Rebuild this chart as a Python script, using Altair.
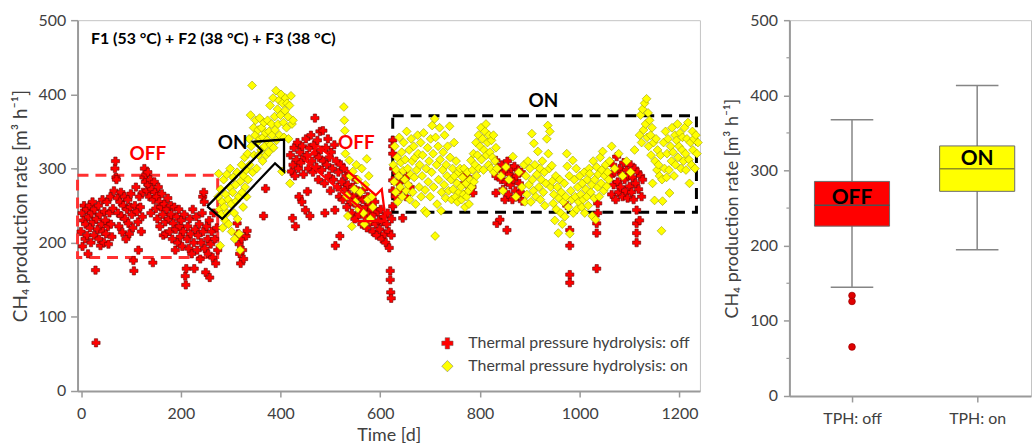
import altair as alt
import pandas as pd

FONT = "Lato"
OFF = "Thermal pressure hydrolysis: off"
ON = "Thermal pressure hydrolysis: on"

# ---------------- scatter data: (time [d], CH4 production rate [m3/h]) ----------------
off_phase1 = [
    (0, 215), (2, 240), (3, 195), (5, 230), (6, 250), (8, 205), (9, 225), (11, 245), (12, 210), (14, 185),
    (15, 235), (17, 250), (18, 220), (20, 200), (21, 240), (23, 255), (24, 228), (26, 210), (27, 245), (29, 163),
    (30, 65), (31, 232), (33, 218), (35, 250), (36, 205), (38, 238), (39, 196), (41, 225), (43, 258), (44, 215),
    (46, 200), (47, 242), (49, 230), (50, 212), (52, 255), (54, 222), (55, 198), (57, 240), (59, 262), (60, 225),
    (62, 208), (64, 246), (66, 270), (68, 300), (69, 310), (70, 288), (71, 285), (73, 260), (74, 240), (76, 222),
    (78, 255), (80, 268), (81, 236), (83, 214), (85, 250), (87, 262), (88, 232), (90, 205), (92, 245), (94, 258),
    (95, 226), (97, 212), (99, 248), (100, 266), (102, 238), (104, 220), (105, 176), (106, 162), (108, 250), (110, 275),
    (112, 242), (114, 228), (115, 190), (117, 262), (119, 248), (121, 215), (123, 235), (124, 268), (126, 288), (127, 300),
    (129, 282), (130, 292), (132, 270), (134, 295), (135, 278), (137, 262), (139, 285), (140, 240), (142, 272), (144, 173),
    (145, 258), (147, 282), (148, 268), (150, 246), (152, 262), (153, 232), (155, 275), (157, 255), (158, 222), (160, 248),
    (162, 266), (164, 238), (165, 210), (167, 252), (169, 228), (170, 212), (172, 245), (174, 260), (176, 232), (178, 215),
    (180, 250), (181, 238), (183, 205), (185, 226), (187, 248), (189, 190), (190, 218), (192, 235), (194, 200), (196, 245),
    (198, 222), (199, 208), (201, 230), (203, 195), (205, 215), (207, 238), (209, 155), (210, 143), (211, 165), (213, 205),
    (214, 222), (216, 192), (218, 232), (220, 212), (222, 185), (224, 245), (226, 200), (227, 165), (229, 218), (231, 235),
    (233, 190), (235, 210), (237, 225), (239, 178), (241, 200), (243, 240), (244, 262), (245, 215), (246, 268), (247, 255),
    (248, 192), (250, 160), (252, 222), (254, 205), (255, 185), (257, 230), (258, 153), (260, 198), (262, 215), (264, 180),
    (266, 240), (268, 205), (270, 172), (272, 220), (274, 190),
]

off_gap = [
    (313, 226), (315, 212), (317, 198), (318, 185), (320, 172), (322, 205), (324, 190), (326, 178),
    (331, 209), (333, 216), (366, 236), (370, 273),
]

on_phase1 = [
    (275, 262), (276, 293), (278, 245), (279, 196), (280, 272), (281, 238), (283, 255), (284, 220), (286, 285), (287, 248),
    (289, 230), (290, 265), (292, 292), (293, 240), (295, 258), (296, 225), (298, 275), (299, 300), (301, 252), (302, 215),
    (304, 268), (305, 288), (307, 240), (308, 205), (310, 278), (311, 256), (313, 295), (314, 232), (316, 262), (317, 212),
    (319, 190), (320, 283), (322, 305), (323, 268), (325, 248), (326, 290), (328, 315), (329, 275), (331, 298), (332, 262),
    (334, 320), (335, 285), (337, 340), (338, 305), (340, 372), (341, 330), (343, 412), (344, 295), (346, 355), (347, 318),
    (349, 345), (350, 365), (352, 300), (353, 335), (355, 352), (356, 318), (358, 368), (359, 340), (361, 325), (362, 355),
    (364, 310), (365, 342), (367, 362), (368, 330), (370, 348), (371, 318), (373, 338), (374, 365), (376, 322), (377, 350),
    (379, 385), (380, 332), (382, 360), (383, 345), (385, 395), (386, 328), (388, 370), (389, 352), (391, 405), (392, 338),
    (394, 380), (395, 360), (397, 392), (398, 345), (400, 372), (401, 400), (403, 296), (404, 388), (406, 362), (407, 342),
    (409, 378), (410, 395), (412, 355), (413, 388), (415, 370), (416, 340), (418, 385), (419, 280), (421, 398), (423, 360),
    (425, 365),
]

off_phase2 = [
    (420, 318), (422, 296), (424, 233), (425, 305), (427, 328), (429, 290), (430, 222), (432, 312), (434, 335), (436, 300),
    (437, 262), (439, 322), (441, 308), (443, 255), (444, 330), (446, 292), (448, 315), (450, 244), (451, 340), (453, 318),
    (454, 269), (456, 300), (458, 328), (459, 236), (461, 345), (463, 310), (465, 295), (467, 332), (469, 368), (470, 320),
    (472, 302), (474, 338), (476, 285), (477, 315), (479, 350), (481, 325), (483, 298), (485, 351), (486, 310), (488, 280),
    (489, 240), (491, 328), (493, 305), (495, 340), (497, 290), (498, 315), (500, 270), (502, 322), (504, 300), (506, 285),
    (508, 332), (509, 244), (510, 196), (512, 310), (514, 275), (516, 295), (518, 262), (519, 209), (521, 305), (523, 282),
    (525, 258), (527, 300), (529, 272), (531, 290), (533, 248), (535, 278), (537, 265), (539, 292), (541, 255), (543, 240),
    (545, 275), (547, 262), (549, 232), (551, 285), (553, 250), (555, 270), (557, 238), (559, 260), (561, 245), (563, 225),
    (565, 258), (567, 272), (569, 235), (571, 248), (573, 220), (575, 262), (577, 240), (579, 252), (581, 228), (583, 245),
    (585, 215), (587, 238), (589, 255), (591, 225), (593, 210), (595, 242), (597, 230), (599, 218), (601, 245), (603, 205),
    (605, 228), (607, 235), (609, 212), (611, 200), (613, 225), (615, 240), (617, 215), (618, 193), (620, 162), (620, 150),
    (621, 133), (622, 125), (622, 210), (623, 232),
]

on_phase2 = [
    (527, 383), (528, 365), (529, 351), (530, 320), (533, 263), (535, 236), (538, 311), (540, 290), (543, 222), (545, 296),
    (548, 272), (550, 255), (552, 305), (555, 285), (557, 245), (560, 268), (563, 300), (566, 240), (568, 225), (570, 278),
    (573, 313), (575, 258), (577, 290), (580, 232), (583, 262), (585, 248),
]

off_phase3 = [
    (625, 338), (625, 330), (625, 320), (625, 284), (625, 270), (625, 249), (627, 300), (630, 262), (633, 294), (636, 280),
    (640, 271), (645, 233), (648, 285), (652, 262), (655, 290), (660, 275),
    (765, 293), (768, 280), (772, 290), (775, 268), (780, 285), (784, 275), (786, 267),
    (832, 311), (832, 290), (832, 267), (834, 226), (838, 300), (840, 231), (842, 285), (844, 305), (846, 272), (848, 295),
    (850, 258), (852, 282), (854, 217), (855, 310), (857, 265), (859, 292), (861, 278), (863, 300), (865, 258), (867, 285),
    (869, 303), (871, 270), (873, 290), (875, 262), (877, 298), (879, 280), (881, 268), (883, 295), (885, 256),
    (974, 250), (980, 217), (980, 196), (980, 157), (980, 146),
    (1034, 226), (1034, 213), (1034, 165), (1036, 253), (1036, 240),
    (1062, 290), (1064, 265), (1066, 305), (1068, 278), (1070, 295), (1072, 258), (1074, 316), (1076, 282), (1078, 268),
    (1080, 300), (1082, 275), (1084, 292), (1086, 262), (1088, 308), (1090, 285), (1092, 270), (1094, 298), (1096, 260),
    (1098, 290), (1100, 276), (1102, 305), (1104, 268), (1106, 288), (1108, 258), (1110, 300), (1112, 280), (1114, 244),
    (1114, 226), (1114, 213), (1114, 200), (1116, 295), (1118, 272), (1120, 230), (1122, 290), (1124, 262), (1126, 285),
]

on_phase3 = [
    (626, 305), (628, 282), (629, 330), (631, 268), (632, 298), (634, 315), (635, 255), (637, 290), (638, 342), (640, 275),
    (641, 308), (643, 322), (644, 262), (646, 297), (647, 335), (649, 285), (650, 312), (652, 270), (653, 350), (655, 300),
    (656, 278), (658, 325), (659, 258), (661, 292), (662, 340), (664, 310), (665, 268), (667, 330), (668, 288), (670, 315),
    (671, 252), (673, 298), (675, 345), (676, 320), (678, 275), (679, 305), (681, 335), (682, 262), (684, 290), (685, 318),
    (687, 348), (689, 243), (690, 271), (692, 300), (693, 240), (695, 328), (696, 282), (698, 310), (700, 262),
    (701, 340), (703, 295), (704, 358), (706, 320), (707, 275), (709, 367), (710, 209), (711, 342), (713, 305), (714, 252),
    (716, 330), (717, 285), (719, 355), (720, 312), (722, 243), (723, 268), (725, 298), (726, 322), (728, 278), (729, 345),
    (731, 260), (732, 305), (734, 290), (735, 330), (737, 270), (739, 357), (740, 315), (742, 285), (743, 258), (745, 300),
    (746, 272), (748, 335), (749, 290), (751, 262), (752, 310), (754, 280), (755, 255), (757, 295), (758, 268), (760, 300),
    (762, 275), (763, 258), (765, 288), (767, 265), (768, 300), (770, 248), (772, 280), (773, 262), (775, 295), (777, 270),
    (778, 252), (780, 285), (782, 311), (783, 275), (785, 298), (787, 320), (788, 282), (790, 305), (792, 335), (793, 290),
    (795, 318), (797, 345), (798, 300), (800, 330), (802, 355), (803, 312), (805, 340), (807, 298), (808, 325), (810, 350),
    (812, 360), (813, 318), (815, 335), (817, 305), (818, 345), (820, 322), (822, 300), (823, 338), (825, 315), (827, 345),
    (828, 295), (830, 310), (832, 328), (834, 300),
    (842, 290), (846, 270), (852, 302), (858, 285), (866, 316), (872, 262), (878, 295), (884, 275), (888, 305), (890, 255),
    (892, 290), (894, 265), (896, 310), (898, 278), (900, 300), (902, 255), (904, 347), (905, 285), (907, 270), (908, 334),
    (910, 305), (912, 262), (914, 292), (916, 323), (918, 275), (920, 300), (921, 258), (923, 285), (925, 310), (927, 268),
    (929, 295), (930, 250), (932, 280), (934, 340), (936, 358), (937, 320), (939, 300), (940, 350), (942, 275), (944, 304),
    (945, 283), (947, 253), (948, 265), (950, 230), (952, 290), (953, 245), (955, 275), (957, 213), (958, 260), (960, 285),
    (962, 240), (963, 268), (965, 225), (967, 255), (969, 280), (970, 235), (972, 262), (974, 320), (975, 303), (977, 248),
    (979, 290), (980, 212), (982, 270), (984, 258), (986, 311), (987, 240), (989, 285), (991, 262), (993, 300), (994, 245),
    (996, 275), (998, 255), (1000, 290),
    (1002, 265), (1004, 248), (1005, 280), (1007, 258), (1009, 295), (1010, 240), (1012, 272), (1014, 262), (1015, 285),
    (1017, 250), (1019, 300), (1020, 293), (1022, 268), (1024, 278), (1025, 236), (1027, 310), (1029, 260), (1030, 285),
    (1032, 231), (1034, 302), (1036, 275), (1037, 292), (1039, 262), (1041, 315), (1043, 280), (1044, 298), (1046, 323),
    (1048, 270), (1050, 290), (1052, 305), (1054, 276), (1056, 295), (1058, 285), (1060, 310),
    (1064, 330), (1070, 300), (1078, 320), (1086, 290), (1094, 310), (1102, 295), (1110, 325),
    (1120, 345), (1122, 372), (1124, 335), (1126, 380), (1128, 352), (1130, 388), (1132, 360), (1134, 394), (1135, 342),
    (1137, 375), (1138, 330), (1140, 365), (1142, 345), (1143, 318), (1145, 355), (1146, 280), (1148, 335), (1150, 257),
    (1151, 310), (1153, 340), (1155, 298), (1156, 325), (1158, 305), (1160, 290), (1162, 318), (1164, 216), (1165, 285),
    (1166, 256), (1168, 335), (1170, 300), (1172, 350), (1174, 288), (1175, 320), (1177, 340), (1179, 298), (1180, 267),
    (1182, 330), (1184, 310), (1185, 355), (1187, 322), (1189, 290), (1191, 345), (1192, 305), (1194, 338), (1196, 360),
    (1197, 315), (1199, 330), (1201, 348), (1203, 300), (1205, 325), (1206, 342), (1208, 310), (1210, 355), (1212, 320),
    (1213, 298), (1215, 340), (1217, 362), (1219, 312), (1220, 280), (1222, 335), (1224, 305), (1226, 350), (1227, 325),
    (1229, 340), (1231, 300), (1233, 345), (1235, 320), (1237, 335),
]

# ---------------- annotation data (in data units) ----------------
off_box_days = [-7, 274]
off_box_rates = [180, 291]
on_box_days = [625, 1234]
on_box_rates = [241, 371]

on_arrow_days = [253, 363, 345, 407, 407, 389, 283, 253]
on_arrow_rates = [249, 324, 336, 339, 296, 307, 232, 249]
off_arrow_days = [475, 591, 603, 611, 547, 563, 451, 475]
off_arrow_rates = [331, 264, 272, 229, 229, 245, 310, 331]

title_text = "F1 (53 °C) + F2 (38 °C) + F3 (38 °C)"
title_day, title_rate = 20, 474
note_texts = ["OFF", "ON", "OFF", "ON"]
note_days = [134, 304, 552, 927]
note_rates = [319, 334, 334, 391]
note_colors = ["#ff0000", "#000000", "#ff0000", "#000000"]

# ---------------- box plot data ----------------
tph_labels = ["TPH: off", "TPH: on"]
box_low = [144.8, 194.6]
box_q1 = [226.0, 272.3]
box_median = [253.8, 302.3]
box_q3 = [285.5, 332.7]
box_high = [367.6, 413.0]
box_fill = ["#ff0000", "#ffff00"]
box_median_color = ["#505050", "#909020"]
box_text = ["OFF", "ON"]
box_text_rate = [263, 315]
outliers_off = [133.7, 125.8, 65.3]
minor_ticks = [50, 150, 250, 350, 450]

# ---------------- frames ----------------
off_df = pd.DataFrame([{"day": d, "rate": v, "series": OFF}
                       for d, v in off_phase1 + off_gap + off_phase2 + off_phase3])
on_df = pd.DataFrame([{"day": d, "rate": v, "series": ON}
                      for d, v in on_phase1 + on_phase2 + on_phase3])

axis_color = "#9a9a9a"
label_color = "#404040"

x_scale = alt.Scale(domain=[-7, 1241], nice=False, zero=False)
y_scale = alt.Scale(domain=[0, 500], nice=False)

x_axis = alt.Axis(values=[0, 200, 400, 600, 800, 1000, 1200], format="d", title="Time [d]", grid=False,
                  tickSize=6, labelPadding=9, titlePadding=5, labelFontSize=16, titleFontSize=18,
                  domainColor=axis_color, domainWidth=2, tickColor=axis_color, tickWidth=1.5,
                  labelColor=label_color, titleColor=label_color, titleFontWeight="normal",
                  labelFont=FONT, titleFont=FONT)
y_axis = alt.Axis(values=[0, 100, 200, 300, 400, 500], title="CH₄ production rate [m³ h⁻¹]", grid=False,
                  tickSize=7, labelPadding=5, titlePadding=8, labelFontSize=16, titleFontSize=19,
                  domainColor=axis_color, domainWidth=2, tickColor=axis_color, tickWidth=1.5,
                  labelColor=label_color, titleColor=label_color, titleFontWeight="normal",
                  labelFont=FONT, titleFont=FONT)

legend = alt.Legend(orient="none", legendX=364, legendY=317, title=None, labelFontSize=16,
                    labelColor=label_color, labelFont=FONT, labelLimit=400, symbolSize=130, labelOffset=13,
                    rowPadding=7, padding=0, symbolStrokeWidth=0.5, symbolStrokeColor="#666666")

dom = [OFF, ON]
col_scale = alt.Scale(domain=dom, range=["#ff0000", "#ffff00"])
shp_scale = alt.Scale(domain=dom, range=["cross", "diamond"])


def point_layer(df, stroke, size):
    return alt.Chart(df).mark_point(filled=True, size=size, stroke=stroke, strokeWidth=0.6, opacity=1).encode(
        x=alt.X("day:Q", scale=x_scale, axis=x_axis),
        y=alt.Y("rate:Q", scale=y_scale, axis=y_axis),
        color=alt.Color("series:N", scale=col_scale, legend=legend),
        shape=alt.Shape("series:N", scale=shp_scale, legend=legend),
    )


off_points = point_layer(off_df, "#6a0000", 68)
on_points = point_layer(on_df, "#9a9a00", 78)

rect_df = pd.DataFrame({
    "x": [off_box_days[0], on_box_days[0]], "x2": [off_box_days[1], on_box_days[1]],
    "y": [off_box_rates[0], on_box_rates[0]], "y2": [off_box_rates[1], on_box_rates[1]],
    "c": ["#ff3030", "#000000"],
})
rects = alt.Chart(rect_df).mark_rect(filled=False, strokeWidth=3, strokeDash=[11, 7]).encode(
    x=alt.X("x:Q", scale=x_scale), x2="x2:Q",
    y=alt.Y("y:Q", scale=y_scale), y2="y2:Q",
    stroke=alt.Stroke("c:N", scale=None),
)


def arrow(days, rates, color):
    df = pd.DataFrame({"day": days, "rate": rates, "i": list(range(len(days)))})
    return alt.Chart(df).mark_line(color=color, strokeWidth=2.3, strokeJoin="miter").encode(
        x=alt.X("day:Q", scale=x_scale), y=alt.Y("rate:Q", scale=y_scale), order="i:Q")


on_arrow = arrow(on_arrow_days, on_arrow_rates, "#000000")
off_arrow = arrow(off_arrow_days, off_arrow_rates, "#ff0000")

title_df = pd.DataFrame({"day": [title_day], "rate": [title_rate], "t": [title_text]})
title_mark = alt.Chart(title_df).mark_text(align="left", baseline="middle", font=FONT, fontSize=16,
                                           fontWeight="bold", color="#000000").encode(
    x=alt.X("day:Q", scale=x_scale), y=alt.Y("rate:Q", scale=y_scale), text="t:N")

notes_df = pd.DataFrame({"day": note_days, "rate": note_rates, "t": note_texts, "c": note_colors})
notes = alt.Chart(notes_df).mark_text(align="center", baseline="middle", font=FONT, fontSize=19,
                                      fontWeight="bold").encode(
    x=alt.X("day:Q", scale=x_scale), y=alt.Y("rate:Q", scale=y_scale), text="t:N",
    color=alt.Color("c:N", scale=None))

left = alt.layer(rects, off_points, on_points, on_arrow, off_arrow, title_mark, notes).properties(
    width=626, height=373)

# ---------------- right panel ----------------
box_pos = [0.5, 1.5]
box_half = 0.30
cap_half = 0.17
box_df = pd.DataFrame({
    "pos": box_pos, "label": tph_labels, "low": box_low, "q1": box_q1, "med": box_median,
    "q3": box_q3, "high": box_high, "fill": box_fill, "medc": box_median_color,
    "bl": [p - box_half for p in box_pos], "br": [p + box_half for p in box_pos],
    "cl": [p - cap_half for p in box_pos], "cr": [p + cap_half for p in box_pos],
    "txt": box_text, "txt_rate": box_text_rate,
})
bx_scale = alt.Scale(domain=[0, 1.93], nice=False, zero=False)
label_expr = f"datum.value < 1 ? '{tph_labels[0]}' : '{tph_labels[1]}'"
bx_axis = alt.Axis(values=box_pos, labelExpr=label_expr, title=None, grid=False, tickSize=6,
                   labelPadding=9, labelFontSize=16, labelColor=label_color, labelFont=FONT,
                   domainColor=axis_color, domainWidth=2, tickColor=axis_color, tickWidth=1.5)
by_axis = alt.Axis(values=[0, 100, 200, 300, 400, 500], title="CH₄ production rate [m³ h⁻¹]", grid=False,
                   tickSize=6, labelPadding=6, titlePadding=8, labelFontSize=16, titleFontSize=18,
                   domainColor=axis_color, domainWidth=2, tickColor=axis_color, tickWidth=1.5,
                   labelColor=label_color, titleColor=label_color, titleFontWeight="normal",
                   labelFont=FONT, titleFont=FONT)

base = alt.Chart(box_df)
whisk = base.mark_rule(color="#858585", strokeWidth=1.5).encode(
    x=alt.X("pos:Q", scale=bx_scale, axis=bx_axis),
    y=alt.Y("low:Q", scale=y_scale, axis=by_axis), y2="high:Q")
cap_lo = base.mark_rule(color="#858585", strokeWidth=1.5).encode(
    x=alt.X("cl:Q", scale=bx_scale), x2="cr:Q", y=alt.Y("low:Q", scale=y_scale))
cap_hi = base.mark_rule(color="#858585", strokeWidth=1.5).encode(
    x=alt.X("cl:Q", scale=bx_scale), x2="cr:Q", y=alt.Y("high:Q", scale=y_scale))
boxes = base.mark_rect(stroke="#6a6a6a", strokeWidth=1).encode(
    x=alt.X("bl:Q", scale=bx_scale), x2="br:Q",
    y=alt.Y("q1:Q", scale=y_scale), y2="q3:Q",
    fill=alt.Fill("fill:N", scale=None))
medians = base.mark_rule(strokeWidth=1.5).encode(
    x=alt.X("bl:Q", scale=bx_scale), x2="br:Q", y=alt.Y("med:Q", scale=y_scale),
    color=alt.Color("medc:N", scale=None))
box_labels = base.mark_text(font=FONT, fontSize=21, fontWeight="bold", color="#000000").encode(
    x=alt.X("pos:Q", scale=bx_scale), y=alt.Y("txt_rate:Q", scale=y_scale), text="txt:N")

out_df = pd.DataFrame({"pos": [box_pos[0]] * len(outliers_off), "rate": outliers_off})
outl = alt.Chart(out_df).mark_circle(size=45, color="#e00000", stroke="#a00000", strokeWidth=0.8, opacity=1).encode(
    x=alt.X("pos:Q", scale=bx_scale), y=alt.Y("rate:Q", scale=y_scale))

minor_df = pd.DataFrame({"v": minor_ticks})
minor = alt.Chart(minor_df).mark_rule(color=axis_color, strokeWidth=1.2).encode(
    y=alt.Y("v:Q", scale=y_scale), x=alt.value(-3), x2=alt.value(0))

right = alt.layer(whisk, cap_lo, cap_hi, boxes, medians, box_labels, outl, minor).properties(
    width=243, height=378)

chart = alt.hconcat(left, right, spacing=18).properties(
    padding={"left": 10, "top": 10, "right": 0, "bottom": 0}
).configure(font=FONT).configure_view(stroke="#c4c4c4", strokeWidth=1)

chart.save("out.html", embed_options={"renderer": "svg", "actions": False})
